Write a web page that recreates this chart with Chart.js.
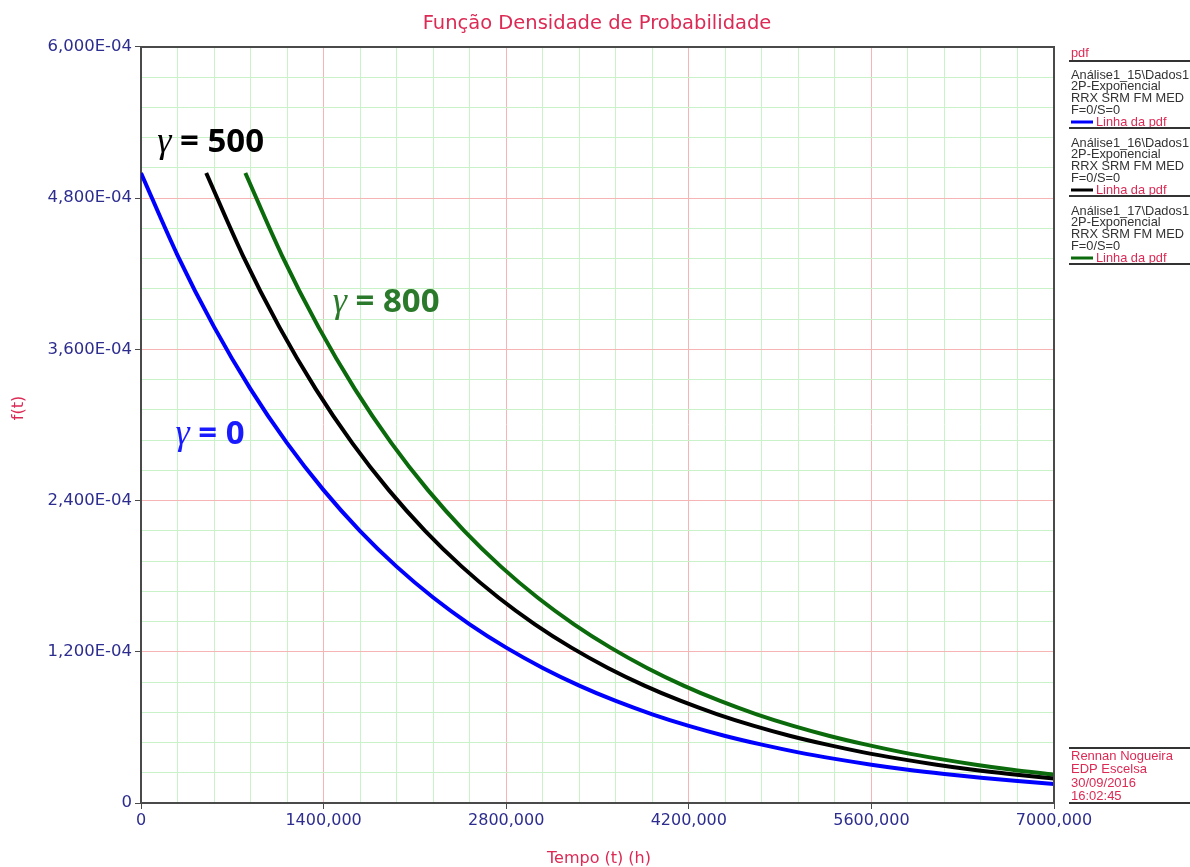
<!DOCTYPE html>
<html>
<head>
<meta charset="utf-8">
<script src="https://cdn.jsdelivr.net/npm/chart.js@4"></script>
<style>
  html, body { margin: 0; padding: 0; background: #fff; }
  #wrap { width: 1190px; height: 867px; }
</style>
</head>
<body>
<div id="wrap"><canvas id="pdfChart" width="1190" height="867"></canvas></div>
<script>
// dados (f(t) em 1/h, t em horas)
const gamma0Time = [0, 280, 560, 840, 1120, 1400, 1680, 1960, 2240, 2520, 2800, 3080, 3360, 3640, 3920, 4200, 4480, 4760, 5040, 5320, 5600, 5880, 6160, 6440, 6720, 7000];
const gamma0Pdf = [5.000e-4, 4.347e-4, 3.779e-4, 3.285e-4, 2.856e-4, 2.483e-4, 2.158e-4, 1.876e-4, 1.631e-4, 1.418e-4, 1.233e-4, 1.072e-4, 0.932e-4, 0.810e-4, 0.704e-4, 0.612e-4, 0.532e-4, 0.463e-4, 0.402e-4, 0.350e-4, 0.304e-4, 0.264e-4, 0.230e-4, 0.200e-4, 0.174e-4, 0.151e-4];

const gamma500Time = [500, 780, 1060, 1340, 1620, 1900, 2180, 2460, 2740, 3020, 3300, 3580, 3860, 4140, 4420, 4700, 4980, 5260, 5540, 5820, 6100, 6380, 6660, 6940, 7000];
const gamma500Pdf = [5.000e-4, 4.347e-4, 3.779e-4, 3.285e-4, 2.856e-4, 2.483e-4, 2.158e-4, 1.876e-4, 1.631e-4, 1.418e-4, 1.233e-4, 1.072e-4, 0.932e-4, 0.810e-4, 0.704e-4, 0.612e-4, 0.532e-4, 0.463e-4, 0.402e-4, 0.350e-4, 0.304e-4, 0.264e-4, 0.230e-4, 0.200e-4, 0.194e-4];

const gamma800Time = [800, 1080, 1360, 1640, 1920, 2200, 2480, 2760, 3040, 3320, 3600, 3880, 4160, 4440, 4720, 5000, 5280, 5560, 5840, 6120, 6400, 6680, 7000];
const gamma800Pdf = [5.000e-4, 4.347e-4, 3.779e-4, 3.285e-4, 2.856e-4, 2.483e-4, 2.158e-4, 1.876e-4, 1.631e-4, 1.418e-4, 1.233e-4, 1.072e-4, 0.932e-4, 0.810e-4, 0.704e-4, 0.612e-4, 0.532e-4, 0.463e-4, 0.402e-4, 0.350e-4, 0.304e-4, 0.264e-4, 0.225e-4];

// eixos
const xMax = 7000;
const xMinorStep = 280;
const xTickLabels = ['0', '1400,000', '2800,000', '4200,000', '5600,000', '7000,000'];
const yMax = 6.0e-4;
const yMinorStep = 0.24e-4;
const yTickLabels = ['0', '1,200E-04', '2,400E-04', '3,600E-04', '4,800E-04', '6,000E-04'];

// rótulos gamma (posição em coordenadas do gráfico)
const gammaLabels = ['500', '800', '0'];
const gammaLabelT = [125, 1470, 265];
const gammaLabelF = [5.17e-4, 3.90e-4, 2.85e-4];
const gammaLabelColors = ['#000000', '#2b7a2b', '#1a1aff'];

const legendNames = ['Análise1_15\\Dados1', 'Análise1_16\\Dados1', 'Análise1_17\\Dados1'];
const seriesColors = ['#0000ff', '#000000', '#0b6a0b'];
const infoLines = ['Rennan Nogueira', 'EDP Escelsa', '30/09/2016', '16:02:45'];

const RED = '#dc2a55';
const NAVY = '#2d2d8f';
const FRAME = '#4a4a4a';

function toPoints(ts, fs) {
    return ts.map((t, i) => ({ x: t, y: fs[i] }));
}

function makeTicks(step, count) {
    const ticks = [];
    for (let i = 0; i <= count; i++) ticks.push({ value: i * step });
    return ticks;
}

const decorPlugin = {
    id: 'decor',
    afterDraw(chart) {
        const ctx = chart.ctx;
        const area = chart.chartArea;
        const xs = chart.scales.x;
        const ys = chart.scales.y;
        ctx.save();

        // moldura superior e direita
        ctx.strokeStyle = FRAME;
        ctx.lineWidth = 2;
        ctx.beginPath();
        ctx.moveTo(area.left, area.top);
        ctx.lineTo(area.right, area.top);
        ctx.lineTo(area.right, area.bottom);
        ctx.stroke();

        // título
        ctx.fillStyle = RED;
        ctx.font = '19.5px "DejaVu Sans"';
        ctx.textAlign = 'center';
        ctx.textBaseline = 'alphabetic';
        ctx.fillText('Função Densidade de Probabilidade', 597, 29);

        // títulos dos eixos
        ctx.font = '16px "DejaVu Sans"';
        ctx.fillText('Tempo (t) (h)', 599, 863);
        ctx.save();
        ctx.translate(23, 408);
        ctx.rotate(-Math.PI / 2);
        ctx.fillText('f(t)', 0, 0);
        ctx.restore();

        // rótulos gamma
        gammaLabels.forEach((lab, i) => {
            const px = xs.getPixelForValue(gammaLabelT[i]);
            const py = ys.getPixelForValue(gammaLabelF[i]);
            ctx.fillStyle = gammaLabelColors[i];
            ctx.textAlign = 'left';
            ctx.font = 'italic 36px "Liberation Serif"';
            ctx.fillText('γ', px, py);
            const gw = ctx.measureText('γ').width;
            ctx.font = 'bold 33px "Open Sans"';
            ctx.fillText(' = ' + lab, px + gw, py);
        });

        // painel da legenda
        const lx = 1069;
        ctx.textAlign = 'left';
        ctx.strokeStyle = '#333';
        ctx.lineWidth = 2;
        ctx.font = '12.8px "Liberation Sans"';
        ctx.fillStyle = RED;
        ctx.fillText('pdf', 1071, 57);
        const hline = y => { ctx.beginPath(); ctx.moveTo(lx, y); ctx.lineTo(1190, y); ctx.stroke(); };
        hline(61);
        legendNames.forEach((name, i) => {
            const y0 = 79 + i * 68;
            ctx.fillStyle = '#333';
            ctx.fillText(name, 1071, y0);
            ctx.fillText('2P-Exponencial', 1071, y0 + 11);
            ctx.fillText('RRX SRM FM MED', 1071, y0 + 23);
            ctx.fillText('F=0/S=0', 1071, y0 + 35);
            ctx.strokeStyle = seriesColors[i];
            ctx.lineWidth = 3;
            ctx.beginPath();
            ctx.moveTo(1071, y0 + 43);
            ctx.lineTo(1093, y0 + 43);
            ctx.stroke();
            ctx.fillStyle = RED;
            ctx.fillText('Linha da pdf', 1096, y0 + 47);
            ctx.strokeStyle = '#333';
            ctx.lineWidth = 2;
            hline(y0 + 49);
        });

        // informações no canto inferior direito
        hline(748);
        ctx.fillStyle = RED;
        ctx.font = '13px "Liberation Sans"';
        infoLines.forEach((t, i) => ctx.fillText(t, 1071, 760 + i * 13.3));
        hline(803);

        ctx.restore();
    }
};

const ctx = document.getElementById('pdfChart').getContext('2d');
new Chart(ctx, {
    type: 'line',
    data: {
        datasets: [
            { data: toPoints(gamma0Time, gamma0Pdf), borderColor: seriesColors[0], borderWidth: 4 },
            { data: toPoints(gamma500Time, gamma500Pdf), borderColor: seriesColors[1], borderWidth: 4 },
            { data: toPoints(gamma800Time, gamma800Pdf), borderColor: seriesColors[2], borderWidth: 4 }
        ].map(d => Object.assign(d, { pointRadius: 0, fill: false, cubicInterpolationMode: 'monotone' }))
    },
    options: {
        responsive: false,
        animation: false,
        layout: { padding: { top: 47, right: 136, bottom: 0, left: 0 } },
        plugins: { legend: { display: false }, title: { display: false }, tooltip: { enabled: false } },
        scales: {
            x: {
                type: 'linear',
                min: 0,
                max: xMax,
                afterBuildTicks: s => { s.ticks = makeTicks(xMinorStep, 25); },
                afterFit: s => { s.height = 64; },
                ticks: {
                    autoSkip: false,
                    maxRotation: 0,
                    padding: 2,
                    color: NAVY,
                    font: { family: 'DejaVu Sans', size: 16 },
                    callback: (v, i) => (i % 5 === 0 ? xTickLabels[i / 5] : '')
                },
                grid: {
                    color: c => (c.index % 5 === 0 ? '#f7b4b4' : '#c9f2c9'),
                    tickColor: c => (c.index % 5 === 0 ? FRAME : 'rgba(0,0,0,0)'),
                    tickLength: 6,
                    lineWidth: 1
                },
                border: { display: true, color: FRAME, width: 2 }
            },
            y: {
                type: 'linear',
                min: 0,
                max: yMax,
                afterBuildTicks: s => { s.ticks = makeTicks(yMinorStep, 25); },
                afterFit: s => { s.width = 141; },
                ticks: {
                    autoSkip: false,
                    padding: 3,
                    color: NAVY,
                    font: { family: 'DejaVu Sans', size: 16.5 },
                    callback: (v, i) => (i % 5 === 0 ? yTickLabels[i / 5] : '')
                },
                grid: {
                    color: c => (c.index % 5 === 0 ? '#f7b4b4' : '#c9f2c9'),
                    tickColor: c => (c.index % 5 === 0 ? FRAME : 'rgba(0,0,0,0)'),
                    tickLength: 6,
                    lineWidth: 1
                },
                border: { display: true, color: FRAME, width: 2 }
            }
        }
    },
    plugins: [decorPlugin]
});
</script>
</body>
</html>
